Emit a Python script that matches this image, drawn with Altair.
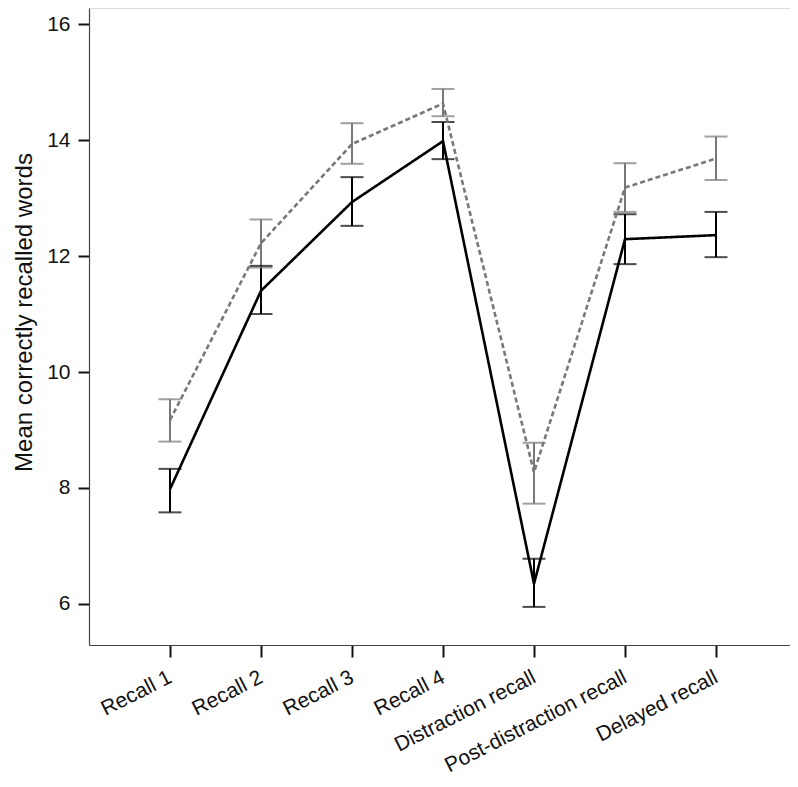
import altair as alt
import pandas as pd

categories = ["Recall 1", "Recall 2", "Recall 3", "Recall 4",
              "Distraction recall", "Post-distraction recall", "Delayed recall"]

# solid black series
black_mean = [7.98, 11.40, 12.93, 13.98, 6.35, 12.29, 12.36]
black_low = [7.58, 11.00, 12.52, 13.67, 5.95, 11.86, 11.98]
black_high = [8.33, 11.83, 13.36, 14.31, 6.78, 12.72, 12.76]

# dashed grey series
grey_mean = [9.17, 12.22, 13.93, 14.63, 8.27, 13.18, 13.68]
grey_low = [8.80, 11.80, 13.59, 14.41, 7.73, 12.76, 13.31]
grey_high = [9.53, 12.63, 14.29, 14.88, 8.78, 13.60, 14.06]

series_names = ["A", "B"]

rows = []
for name, m, lo, hi in [("A", black_mean, black_low, black_high),
                        ("B", grey_mean, grey_low, grey_high)]:
    for c, mv, lv, hv in zip(categories, m, lo, hi):
        rows.append({"cat": c, "series": name, "mean": mv, "low": lv, "high": hv})
df = pd.DataFrame(rows)

x_enc = alt.X("cat:N", sort=categories,
              scale=alt.Scale(type="point", padding=0.89, range=[0, 708]),
              axis=alt.Axis(title=None, labelAngle=-27))
y_scale = alt.Scale(domain=[5.293, 16.276], nice=False, zero=False)
y_axis = alt.Axis(title="Mean correctly recalled words", values=[6, 8, 10, 12, 14, 16],
                  format="d", grid=False)

color_scale = alt.Scale(domain=series_names, range=["#000000", "#787878"])

base = alt.Chart(df)

lines = base.mark_line(strokeWidth=2.6).encode(
    x=x_enc,
    y=alt.Y("mean:Q", scale=y_scale, axis=y_axis),
    color=alt.Color("series:N", scale=color_scale, legend=None),
    strokeDash=alt.StrokeDash("series:N",
                              scale=alt.Scale(domain=series_names, range=[[1, 0], [5, 3]]),
                              legend=None),
    order=alt.Order("series:N"),
)

rules = base.mark_rule(strokeWidth=2).encode(
    x=x_enc,
    y=alt.Y("low:Q", scale=y_scale, axis=y_axis),
    y2="high:Q",
    color=alt.Color("series:N", scale=color_scale, legend=None),
)

caps_low = base.mark_tick(orient="horizontal", size=23, thickness=2).encode(
    x=x_enc,
    y=alt.Y("low:Q", scale=y_scale, axis=y_axis),
    color=alt.Color("series:N", scale=color_scale, legend=None),
)
caps_high = base.mark_tick(orient="horizontal", size=23, thickness=2).encode(
    x=x_enc,
    y=alt.Y("high:Q", scale=y_scale, axis=y_axis),
    color=alt.Color("series:N", scale=color_scale, legend=None),
)

chart = alt.layer(rules, caps_low, caps_high, lines).properties(
    width=701, height=637,
    autosize=alt.AutoSizeParams(type="none"),
    padding={"left": 81, "top": 0, "right": 0, "bottom": 140},
).configure_view(stroke=None).configure(
    font="Liberation Sans"
).configure_axisX(
    labelAlign="right", labelBaseline="top", labelFontSize=21,
    labelPadding=9, labelOffset=-5, tickSize=12, tickWidth=2, tickColor="#111",
    labelColor="#111", domainColor="#444", domainWidth=1.2,
    labelAngle=-27, grid=False, labelLimit=400
).configure_axisY(
    titleFontSize=24, titleFontWeight="normal", titleColor="#111",
    titleAngle=-90, titleX=-58, titleY=304, titleAlign="center",
    titleBaseline="alphabetic",
    labelFontSize=21, labelColor="#111", labelPadding=8,
    tickSize=11, tickWidth=2, tickColor="#111",
    domainColor="#444", domainWidth=1.2, grid=False
)

chart.save("out.html", embed_options={"renderer": "svg", "actions": False})
